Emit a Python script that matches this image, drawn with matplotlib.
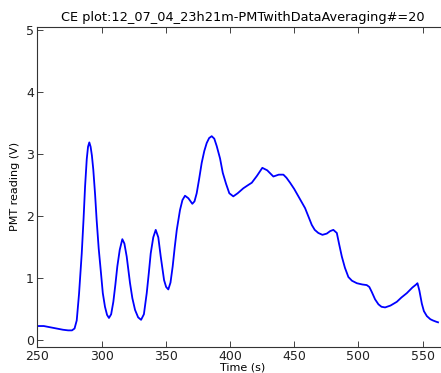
import matplotlib
matplotlib.use("Agg")
import matplotlib.pyplot as plt

title = "CE plot:12_07_04_23h21m-PMTwithDataAveraging#=20"
xlabel = "Time (s)"
ylabel = "PMT reading (V)"

time_s = [250, 255, 260, 265, 270, 274, 277, 279, 280.7, 282.5, 284.6, 286, 287.2, 288.5,
          289.5, 290.5, 291.5, 292.5, 293.6, 295, 296.2, 297.8, 299.6, 301, 302.7, 304.3,
          305.8, 307.5, 309.2, 310.8, 312.3, 314.2, 316.2, 317.8, 319.6, 322.2, 324, 326.1,
          328.5, 330.8, 333, 335.2, 336.8, 338.3, 340.3, 342.2, 344.2, 346.1, 348.7, 350.3,
          352, 353.7, 355.4, 357, 358.6, 361.1, 363, 365, 367.6, 370.7, 372.4, 374.1, 376,
          378, 380, 381.9, 383.8, 385.8, 387.8, 389.7, 392.3, 394.4, 397, 399.5, 402.6,
          406, 410.4, 414, 417, 421, 425.2, 429, 433.8, 438, 441.6, 444, 446.8, 450, 453.3,
          458.5, 463.7, 466, 468.8, 472, 475.4, 478, 480.5, 483.2, 485, 487.1, 489.5, 492.2,
          495, 498.8, 503, 506.5, 508.5, 510.4, 513, 515.6, 518, 520.8, 525, 529.9, 533.5,
          537.7, 542, 545, 546, 547.5, 549.4, 551, 553.3, 556, 558, 560.5, 562]
pmt_v = [0.23, 0.23, 0.21, 0.19, 0.17, 0.16, 0.16, 0.19, 0.32, 0.75, 1.40, 1.95, 2.48, 2.92,
         3.12, 3.19, 3.12, 2.98, 2.75, 2.35, 1.94, 1.48, 1.08, 0.76, 0.54, 0.41, 0.36, 0.42,
         0.62, 0.90, 1.19, 1.46, 1.63, 1.56, 1.35, 0.92, 0.68, 0.49, 0.37, 0.33, 0.42, 0.76,
         1.08, 1.40, 1.66, 1.78, 1.66, 1.35, 0.97, 0.86, 0.82, 0.93, 1.19, 1.50, 1.78, 2.10,
         2.26, 2.33, 2.29, 2.20, 2.24, 2.37, 2.60, 2.86, 3.05, 3.18, 3.26, 3.29, 3.25, 3.13,
         2.93, 2.70, 2.52, 2.37, 2.32, 2.37, 2.45, 2.50, 2.54, 2.65, 2.78, 2.74, 2.64, 2.67,
         2.67, 2.62, 2.54, 2.44, 2.32, 2.13, 1.86, 1.78, 1.73, 1.70, 1.72, 1.76, 1.78, 1.73,
         1.55, 1.35, 1.17, 1.02, 0.96, 0.92, 0.90, 0.89, 0.86, 0.78, 0.66, 0.58, 0.54, 0.53,
         0.56, 0.62, 0.69, 0.76, 0.85, 0.90, 0.92, 0.80, 0.59, 0.47, 0.39, 0.34, 0.32, 0.30,
         0.29]

xticks = [250, 300, 350, 400, 450, 500, 550]
yticks = [0, 1, 2, 3, 4, 5]

fig = plt.figure(figsize=(4.41, 3.73), dpi=100)
ax = fig.add_axes([37.3 / 441, 26.5 / 373, 411 / 441, 319.5 / 373])
ax.plot(time_s, pmt_v, color="#0000ff", linewidth=1.3)
ax.set_xlim(250, 570)
ax.set_ylim(-0.1, 5.05)
ax.set_xticks(xticks)
ax.set_yticks(yticks)
ax.tick_params(direction="in", top=True, right=True, length=4, width=0.6,
               labelsize=9, pad=2.5, colors="#222222")
for s in ax.spines.values():
    s.set_linewidth(0.8)
    s.set_color("#333333")
ax.set_title(title, fontsize=9.3, pad=4)
ax.set_xlabel(xlabel, fontsize=8, labelpad=0)
ax.set_ylabel(ylabel, fontsize=8, labelpad=4)
fig.savefig("out.png", dpi=100)
